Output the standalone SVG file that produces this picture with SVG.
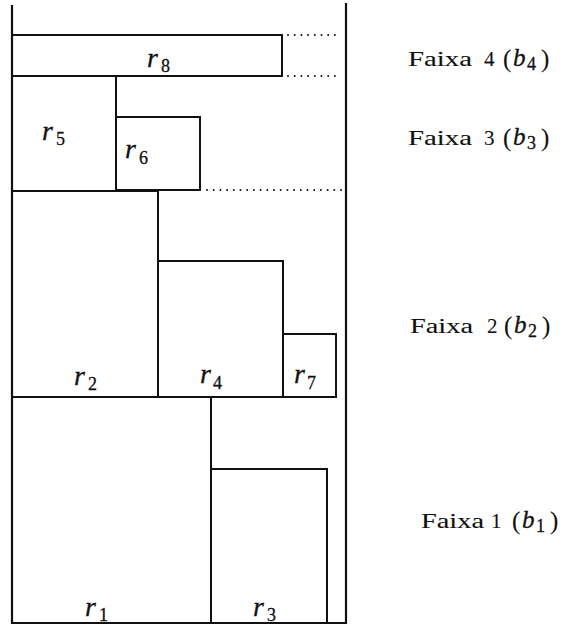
<svg xmlns="http://www.w3.org/2000/svg" width="565" height="626" viewBox="0 0 565 626">
<style>
.box{fill:none;stroke:#111;stroke-width:2}
.wall{fill:none;stroke:#111;stroke-width:2.2}
.dot{stroke:#111;stroke-width:2;stroke-linecap:round;stroke-dasharray:0 6.7}
text{font-family:"Liberation Serif","Times New Roman",serif;fill:#111;stroke:#111;stroke-width:0.3}
.r{font-style:italic;font-size:28px}
.s{font-size:18px}
.t{font-size:21px;stroke-width:0.1}
.m{font-style:italic;font-size:25px}
.p{font-size:25px;stroke-width:0.1}
</style>
<rect width="565" height="626" fill="#fff"/>
<g id="bin">
<path class="wall" d="M12,5 V623 H346 V3"/>
</g>
<g id="connectors">
<line class="dot" x1="288" y1="35" x2="341" y2="35"/>
<line class="dot" x1="288" y1="76" x2="341" y2="76"/>
<line class="dot" x1="207" y1="190" x2="341" y2="190"/>
</g>
<g id="r8"><rect class="box" x="12" y="35" width="270" height="41"/><text class="r" x="147" y="67">r</text><text class="s" x="161" y="72">8</text></g>
<g id="r5"><rect class="box" x="12" y="76" width="104" height="115"/><text class="r" x="42" y="140">r</text><text class="s" x="56" y="145">5</text></g>
<g id="r6"><rect class="box" x="116" y="117" width="84" height="73"/><text class="r" x="125" y="158">r</text><text class="s" x="139" y="164">6</text></g>
<g id="r2"><rect class="box" x="12" y="191" width="146" height="206"/><text class="r" x="74" y="385">r</text><text class="s" x="88" y="390">2</text></g>
<g id="r4"><rect class="box" x="158" y="261" width="125" height="136"/><text class="r" x="200" y="383">r</text><text class="s" x="213" y="389">4</text></g>
<g id="r7"><rect class="box" x="283" y="334" width="53" height="63"/><text class="r" x="294" y="383">r</text><text class="s" x="307" y="389">7</text></g>
<g id="r1"><rect class="box" x="12" y="397" width="199" height="226"/><text class="r" x="85" y="616">r</text><text class="s" x="99" y="621">1</text></g>
<g id="r3"><rect class="box" x="211" y="469" width="116" height="154"/><text class="r" x="253" y="616">r</text><text class="s" x="267" y="621">3</text></g>
<g id="b4"><text class="t" x="408" y="66" textLength="64" lengthAdjust="spacingAndGlyphs">Faixa</text><text class="t" x="484" y="66">4</text><text class="p" x="503" y="67">(</text><text class="m" x="513" y="66">b</text><text class="s" x="527" y="70">4</text><text class="p" x="541" y="67">)</text></g>
<g id="b3"><text class="t" x="408" y="145" textLength="64" lengthAdjust="spacingAndGlyphs">Faixa</text><text class="t" x="484" y="145">3</text><text class="p" x="503" y="146">(</text><text class="m" x="513" y="145">b</text><text class="s" x="527" y="149">3</text><text class="p" x="541" y="146">)</text></g>
<g id="b2"><text class="t" x="410" y="333" textLength="63" lengthAdjust="spacingAndGlyphs">Faixa</text><text class="t" x="487" y="333">2</text><text class="p" x="504" y="334">(</text><text class="m" x="514" y="333">b</text><text class="s" x="528" y="337">2</text><text class="p" x="542" y="334">)</text></g>
<g id="b1"><text class="t" x="421" y="528" textLength="63" lengthAdjust="spacingAndGlyphs">Faixa</text><text class="t" x="491" y="528">1</text><text class="p" x="512" y="529">(</text><text class="m" x="522" y="528">b</text><text class="s" x="536" y="532">1</text><text class="p" x="550" y="529">)</text></g>
</svg>
